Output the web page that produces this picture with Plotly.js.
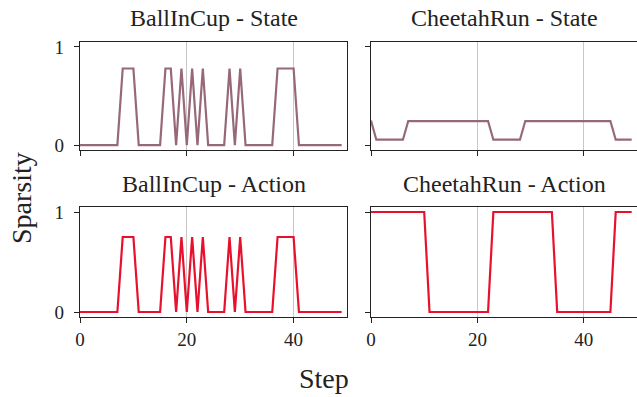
<!DOCTYPE html>
<html><head><meta charset="utf-8">
<script src="https://cdn.plot.ly/plotly-3.0.1.min.js"></script>
<style>body{margin:0;padding:0;}#chart{width:637px;height:397px;}</style>
</head><body><div id="chart"></div>
<script>
const steps = Array.from({length: 50}, (_, i) => i);
const ballState = [0,0,0,0,0,0,0,0,0.78,0.78,0.78,0,0,0,0,0,0.78,0.78,0,0.78,0,0.78,0,0.78,0,0,0,0,0.78,0,0.78,0,0,0,0,0,0,0.78,0.78,0.78,0.78,0,0,0,0,0,0,0,0,0];
const ballAction = [0,0,0,0,0,0,0,0,0.75,0.75,0.75,0,0,0,0,0,0.75,0.75,0,0.75,0,0.75,0,0.75,0,0,0,0,0.75,0,0.75,0,0,0,0,0,0,0.75,0.75,0.75,0.75,0,0,0,0,0,0,0,0,0];
const cheetahState = [0.25,0.055,0.055,0.055,0.055,0.055,0.055,0.245,0.245,0.245,0.245,0.245,0.245,0.245,0.245,0.245,0.245,0.245,0.245,0.245,0.245,0.245,0.245,0.055,0.055,0.055,0.055,0.055,0.055,0.245,0.245,0.245,0.245,0.245,0.245,0.245,0.245,0.245,0.245,0.245,0.245,0.245,0.245,0.245,0.245,0.245,0.055,0.055,0.055,0.055];
const cheetahAction = [1,1,1,1,1,1,1,1,1,1,1,0,0,0,0,0,0,0,0,0,0,0,0,1,1,1,1,1,1,1,1,1,1,1,1,0,0,0,0,0,0,0,0,0,0,0,1,1,1,1];
const titles = ["BallInCup - State", "CheetahRun - State", "BallInCup - Action", "CheetahRun - Action"];
const xTicks = [0, 20, 40];
const yTicks = [0, 1];

const stateColor = '#976879';
const actionColor = '#e8112d';
const W = 637, H = 397;
const xl = [80/W, 347/W], xr = [371/W, 1];
const yt = [1-150/H, 1-42/H], yb = [1-317/H, 1-207/H];
const font = {family: '"Liberation Serif"', color: '#222'};

const traces = [
  {x: steps, y: ballState, xaxis: 'x', yaxis: 'y', line: {color: stateColor}},
  {x: steps, y: cheetahState, xaxis: 'x2', yaxis: 'y2', line: {color: stateColor}},
  {x: steps, y: ballAction, xaxis: 'x3', yaxis: 'y3', line: {color: actionColor}},
  {x: steps, y: cheetahAction, xaxis: 'x4', yaxis: 'y4', line: {color: actionColor}}
].map(t => Object.assign({type: 'scatter', mode: 'lines', hoverinfo: 'skip'}, t, {line: Object.assign({width: 2.2}, t.line)}));

function xax(dom, anchor, labels) {
  return {domain: dom, anchor: anchor, range: [0, 50], tickvals: xTicks, showticklabels: labels,
    ticks: 'outside', ticklen: 5, tickwidth: 1, tickcolor: '#222', showline: true, linecolor: '#222', linewidth: 1.2,
    mirror: true, showgrid: true, gridcolor: '#c8c8c8', gridwidth: 1, zeroline: false,
    tickfont: Object.assign({size: 19}, font)};
}
function yax(dom, anchor, labels) {
  return {domain: dom, anchor: anchor, range: [-0.05, 1.05], tickvals: yTicks, showticklabels: labels,
    ticks: 'outside', ticklen: 5, tickwidth: 1, tickcolor: '#222', showline: true, linecolor: '#222', linewidth: 1.2,
    mirror: true, showgrid: false, zeroline: false, ticklabelstandoff: 6,
    tickfont: Object.assign({size: 19}, font)};
}

const centers = [[(xl[0]+xl[1])/2, 1-18/H], [(xr[0]+xr[1])/2, 1-18/H], [(xl[0]+xl[1])/2, 1-184/H], [(xr[0]+xr[1])/2, 1-184/H]];
const annotations = titles.map((t, i) => ({text: t, x: centers[i][0], y: centers[i][1], xref: 'paper', yref: 'paper',
  showarrow: false, xanchor: 'center', yanchor: 'middle', font: Object.assign({size: 24}, font)}));
annotations.push({text: 'Sparsity', x: 21/W, y: 1-198/H, xref: 'paper', yref: 'paper', showarrow: false, textangle: -90,
  xanchor: 'center', yanchor: 'middle', font: Object.assign({size: 28}, font)});
annotations.push({text: 'Step', x: 324/W, y: 1-378/H, xref: 'paper', yref: 'paper', showarrow: false,
  xanchor: 'center', yanchor: 'middle', font: Object.assign({size: 28}, font)});

const layout = {
  width: W, height: H, margin: {l: 0, r: 0, t: 0, b: 0}, showlegend: false,
  paper_bgcolor: 'white', plot_bgcolor: 'white', font: font,
  xaxis: xax(xl, 'y', false), yaxis: yax(yt, 'x', true),
  xaxis2: xax(xr, 'y2', false), yaxis2: yax(yt, 'x2', false),
  xaxis3: xax(xl, 'y3', true), yaxis3: yax(yb, 'x3', true),
  xaxis4: xax(xr, 'y4', true), yaxis4: yax(yb, 'x4', false),
  annotations: annotations
};
Plotly.newPlot('chart', traces, layout, {staticPlot: true, displayModeBar: false});
</script></body></html>
